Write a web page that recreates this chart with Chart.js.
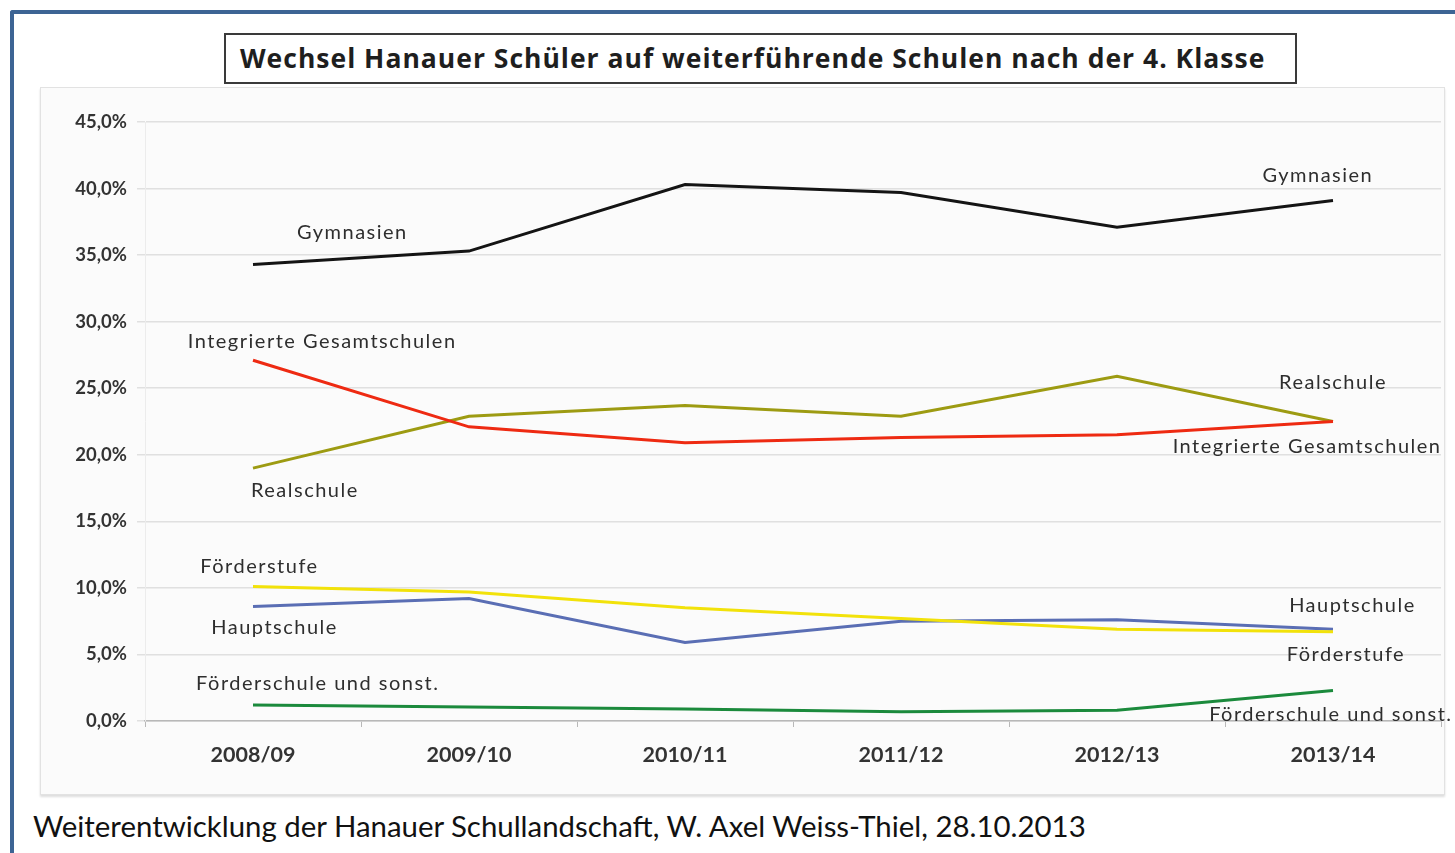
<!DOCTYPE html>
<html>
<head>
<meta charset="utf-8">
<script src="https://cdn.jsdelivr.net/npm/chart.js@4.4.1/dist/chart.umd.min.js"></script>
<style>
	html, body {
		margin: 0;
		padding: 0;
		background: #ffffff;
		width: 1455px;
		height: 853px;
		overflow: hidden;
	}
	.frame {
		position: absolute;
		left: 10px;
		top: 10px;
		width: 1500px;
		height: 900px;
		border-left: 4px solid #3d6494;
		border-top: 4px solid #3d6494;
		border-top-left-radius: 3px;
	}
	.panel {
		position: absolute;
		left: 40px;
		top: 87px;
		width: 1403px;
		height: 706px;
		background: #fbfbfb;
		border: 1px solid #e2e2e2;
		box-shadow: 0 2px 2px #dedede;
	}
	.chart {
		position: absolute;
		left: 40px;
		top: 28px;
		width: 1415px;
		height: 767px;
	}
	.title {
		position: absolute;
		left: 224px;
		top: 33px;
		width: 1073px;
		height: 51px;
		border: 2px solid #3a3a3a;
		background: #ffffff;
		box-sizing: border-box;
		font: bold 26.5px "Open Sans", sans-serif;
		letter-spacing: 1px;
		color: #1e1e1e;
		line-height: 47px;
		padding-left: 14px;
		white-space: nowrap;
	}
	.footer {
		position: absolute;
		left: 33px;
		top: 808px;
		font: 29.4px Lato, sans-serif;
		color: #111111;
		white-space: nowrap;
	}
</style>
</head>
<body>
<div class="frame"></div>
<div class="panel"></div>
<div class="chart"><canvas id="chart"></canvas></div>
<div class="title">Wechsel Hanauer Schüler auf weiterführende Schulen nach der 4. Klasse</div>
<div class="footer">Weiterentwicklung der Hanauer Schullandschaft, W. Axel Weiss-Thiel, 28.10.2013</div>

<script>
// school years
const years = ['2008/09', '2009/10', '2010/11', '2011/12', '2012/13', '2013/14'];

// share of pupils per school type, in percent
const gymnasien = [34.3, 35.3, 40.3, 39.7, 37.1, 39.1];
const gesamtschulen = [27.1, 22.1, 20.9, 21.3, 21.5, 22.5];
const realschule = [19.0, 22.9, 23.7, 22.9, 25.9, 22.5];
const foerderstufe = [10.1, 9.7, 8.5, 7.7, 6.9, 6.7];
const hauptschule = [8.6, 9.2, 5.9, 7.5, 7.6, 6.9];
const foerderschule = [1.2, 1.05, 0.9, 0.7, 0.8, 2.3];

// value axis ticks
const yTicks = [0, 5, 10, 15, 20, 25, 30, 35, 40, 45];

// series names written next to the lines (x in category units, y in percent)
const seriesLabels = [
	{text: 'Gymnasien', x: 0.46, y: 36.7},
	{text: 'Gymnasien', x: 4.93, y: 41.0},
	{text: 'Integrierte Gesamtschulen', x: 0.32, y: 28.5},
	{text: 'Integrierte Gesamtschulen', x: 4.88, y: 20.6},
	{text: 'Realschule', x: 0.24, y: 17.3},
	{text: 'Realschule', x: 5.0, y: 25.4},
	{text: 'Förderstufe', x: 0.03, y: 11.6},
	{text: 'Förderstufe', x: 5.06, y: 5.0},
	{text: 'Hauptschule', x: 0.1, y: 7.0},
	{text: 'Hauptschule', x: 5.09, y: 8.7},
	{text: 'Förderschule und sonst.', x: 0.3, y: 2.8},
	{text: 'Förderschule und sonst.', x: 4.99, y: 0.45}
];

function line(label, data, color) {
	return {
		label: label,
		data: data,
		borderColor: color,
		backgroundColor: color,
		borderWidth: 3,
		pointRadius: 0,
		tension: 0,
		fill: false
	};
}

const lineLabels = {
	id: 'lineLabels',
	afterDatasetsDraw(chart) {
		const ctx = chart.ctx;
		const xs = chart.scales.x;
		const ys = chart.scales.y;

		ctx.save();
		ctx.font = '20px Lato, sans-serif';
		ctx.letterSpacing = '1.5px';
		ctx.fillStyle = '#2e2e2e';
		ctx.textAlign = 'center';
		ctx.textBaseline = 'middle';
		seriesLabels.forEach(function(l) {
			ctx.fillText(l.text, xs.getPixelForValue(l.x), ys.getPixelForValue(l.y));
		});
		ctx.restore();
	}
};

new Chart(document.getElementById('chart'), {
	type: 'line',
	data: {
		labels: years,
		datasets: [
			line('Gymnasien', gymnasien, '#141414'),
			line('Integrierte Gesamtschulen', gesamtschulen, '#ee2a12'),
			line('Realschule', realschule, '#9d9b12'),
			line('Förderstufe', foerderstufe, '#f2e20a'),
			line('Hauptschule', hauptschule, '#5a6eb4'),
			line('Förderschule und sonst.', foerderschule, '#1b8a3c')
		]
	},
	options: {
		responsive: true,
		maintainAspectRatio: false,
		animation: false,
		layout: {
			padding: {left: 0, right: 14, top: 94, bottom: 0}
		},
		plugins: {
			legend: {display: false},
			tooltip: {enabled: false}
		},
		scales: {
			x: {
				offset: true,
				afterFit(scale) {
					scale.height = 74;
				},
				border: {color: '#b8b8b8', width: 1.5},
				grid: {
					offset: true,
					drawOnChartArea: false,
					tickLength: 6,
					color: '#b8b8b8'
				},
				ticks: {
					padding: 15,
					color: '#333333',
					font: {family: 'Lato', size: 21.5, weight: 'bold'}
				}
			},
			y: {
				min: 0,
				max: 45,
				afterFit(scale) {
					scale.width = 105;
				},
				afterBuildTicks(scale) {
					scale.ticks = yTicks.map(function(v) { return {value: v}; });
				},
				border: {color: '#ececec', width: 1},
				grid: {
					color: '#e0e0e0',
					lineWidth: 1.5,
					tickLength: 8
				},
				ticks: {
					padding: 10,
					color: '#333333',
					font: {family: 'Lato', size: 18.5, weight: 'bold'},
					callback: function(v) {
						return v.toFixed(1).replace('.', ',') + '%';
					}
				}
			}
		}
	},
	plugins: [lineLabels]
});
</script>
</body>
</html>
